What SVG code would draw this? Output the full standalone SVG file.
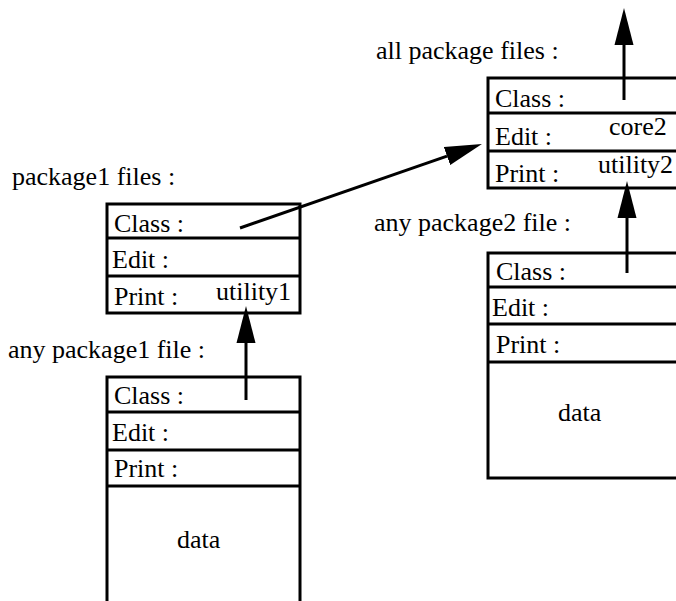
<svg xmlns="http://www.w3.org/2000/svg" width="676" height="601" viewBox="0 0 676 601">
<style>
.box{fill:#fff;stroke:#000;stroke-width:3}
.div{stroke:#000;stroke-width:3}
.t{font-family:'Liberation Serif',serif;font-size:26px;fill:#000}
.conn{stroke:#000;stroke-width:3;fill:none;marker-end:url(#ah)}
</style>
<defs>
<marker id="ah" markerUnits="userSpaceOnUse" markerWidth="38" markerHeight="20" viewBox="0 -10 38 20" refX="0" refY="0" orient="auto">
<path d="M0,-9.5 L37,0 L0,9.5 Z" fill="#000"/>
</marker>
</defs>
<g class="t" font-family="Liberation Serif, serif">
<g id="label-all"><text x="376" y="59">all package files :</text></g>
<g id="label-pkg1"><text x="12" y="185">package1 files :</text></g>
<g id="label-any1"><text x="8" y="358">any package1 file :</text></g>
<g id="label-any2"><text x="374" y="231">any package2 file :</text></g>

<g id="all-package-files">
<rect class="box" x="488" y="78" width="200" height="110"/>
<line class="div" x1="488" y1="113" x2="688" y2="113"/>
<line class="div" x1="488" y1="151" x2="688" y2="151"/>
<text x="495" y="107">Class :</text>
<text x="495" y="145">Edit :</text>
<text x="495" y="182">Print :</text>
<text x="609" y="135">core2</text>
<text x="598" y="173">utility2</text>
</g>

<g id="package1-files">
<rect class="box" x="107" y="204" width="193" height="109"/>
<line class="div" x1="107" y1="238" x2="300" y2="238"/>
<line class="div" x1="107" y1="276" x2="300" y2="276"/>
<text x="114" y="232">Class :</text>
<text x="112" y="268">Edit :</text>
<text x="114" y="305">Print :</text>
<text x="216" y="300">utility1</text>
</g>

<g id="any-package1-file">
<rect class="box" x="107" y="377" width="193" height="240"/>
<line class="div" x1="107" y1="412" x2="300" y2="412"/>
<line class="div" x1="107" y1="450" x2="300" y2="450"/>
<line class="div" x1="107" y1="486" x2="300" y2="486"/>
<text x="114" y="404">Class :</text>
<text x="112" y="441">Edit :</text>
<text x="114" y="477">Print :</text>
<text x="177" y="548">data</text>
</g>

<g id="any-package2-file">
<rect class="box" x="488" y="253" width="200" height="225"/>
<line class="div" x1="488" y1="287" x2="688" y2="287"/>
<line class="div" x1="488" y1="324" x2="688" y2="324"/>
<line class="div" x1="488" y1="362" x2="688" y2="362"/>
<text x="496" y="280">Class :</text>
<text x="492" y="316">Edit :</text>
<text x="496" y="353">Print :</text>
<text x="558" y="421">data</text>
</g>
</g>

<g id="connectors">
<line class="conn" x1="624" y1="100" x2="624" y2="45"/>
<line class="conn" x1="246" y1="400" x2="246" y2="343"/>
<line class="conn" x1="627" y1="273" x2="627" y2="218"/>
<line class="conn" x1="240" y1="228" x2="447" y2="156.1"/>
</g>
</svg>
